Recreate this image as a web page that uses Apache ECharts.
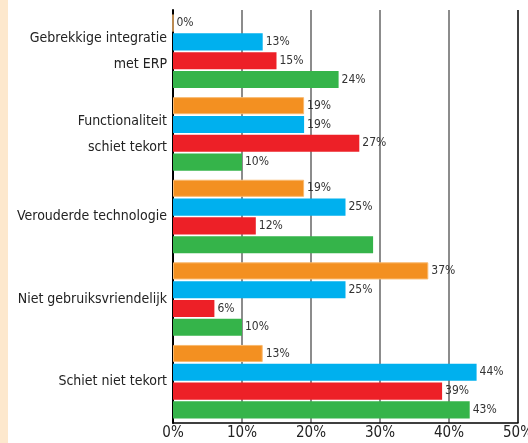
<!DOCTYPE html>
<html>
<head>
<meta charset="utf-8">
<script src="https://cdn.jsdelivr.net/npm/echarts@6/dist/echarts.min.js"></script>
<style>
  html, body { margin: 0; padding: 0; background: #fff; }
  #chart { width: 528px; height: 443px; }
</style>
</head>
<body>
<div id="chart"></div>
<script>
// categorieën van boven naar beneden
var categories = [
  'Gebrekkige integratie\nmet ERP',
  'Functionaliteit\nschiet tekort',
  'Verouderde technologie',
  'Niet gebruiksvriendelijk',
  'Schiet niet tekort'
];
var oranje = [0, 19, 19, 37, 13];
var blauw  = [13, 19, 25, 25, 44];
var rood   = [15, 27, 12, 6, 39];
var groen  = [24, 10, 29, 10, 43];
var xTicks = [0, 10, 20, 30, 40, 50];

var font = "'DejaVu Sans Condensed', sans-serif";

function makeSeries(data, color, border, hideIdx) {
  return {
    type: 'bar',
    data: data.map(function (v, i) {
      var d = { value: v };
      if (hideIdx === i) d.label = { show: false };
      return d;
    }),
    itemStyle: { color: color, borderColor: border || color, borderWidth: border ? 1 : 0 },
    barGap: '10%',
    barCategoryGap: '11%',
    label: {
      show: true,
      position: 'right',
      distance: 3,
      formatter: '{c}%',
      fontFamily: font,
      fontSize: 12,
      color: '#333'
    },
    silent: true
  };
}

var chart = echarts.init(document.getElementById('chart'));
chart.setOption({
  animation: false,
  graphic: [{
    type: 'rect', left: 0, top: 0,
    shape: { width: 8, height: 443 },
    style: { fill: '#fde8cd' }, z: -1
  }],
  grid: { left: 173, right: 10, top: 10, bottom: 20, containLabel: false, outerBoundsMode: 'none' },
  xAxis: {
    type: 'value',
    min: xTicks[0],
    max: xTicks[xTicks.length - 1],
    interval: 10,
    axisLine: { show: true, lineStyle: { color: '#000', width: 1.5 } },
    axisTick: { show: false },
    axisLabel: {
      formatter: '{value}%',
      fontFamily: font,
      fontSize: 15,
      color: '#222',
      margin: 3,
      hideOverlap: false
    },
    splitLine: {
      show: true,
      lineStyle: { color: ['#000', '#666', '#666', '#666', '#666', '#000'], width: 1.5 }
    }
  },
  yAxis: {
    type: 'category',
    inverse: true,
    data: categories,
    axisLine: { show: true, lineStyle: { color: '#000', width: 2 } },
    axisTick: { show: false },
    axisLabel: {
      fontFamily: font,
      fontSize: 14,
      lineHeight: 26,
      color: '#222',
      margin: 6,
      align: 'right'
    }
  },
  series: [
    makeSeries(oranje, '#f39021', '#f9b96e'),
    makeSeries(blauw, '#00b0ee'),
    makeSeries(rood, '#ed2027'),
    makeSeries(groen, '#35b44a', null, 2)
  ]
});
</script>
</body>
</html>
